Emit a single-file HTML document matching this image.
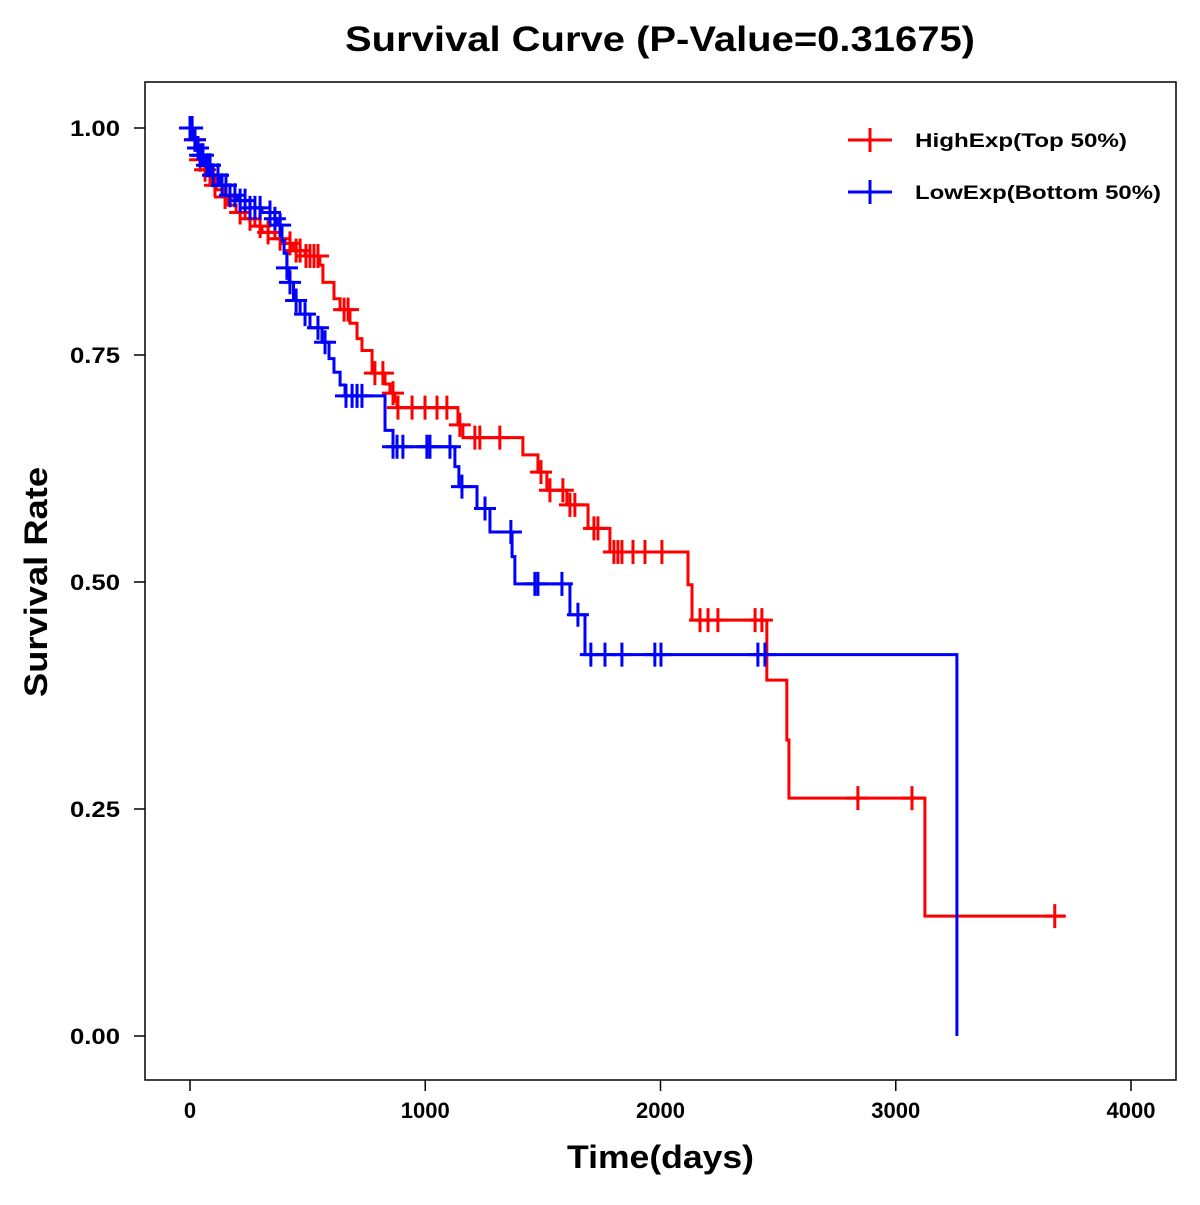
<!DOCTYPE html>
<html><head><meta charset="utf-8"><style>
body{margin:0;background:#fff;}
svg text{font-family:"Liberation Sans",Arial,sans-serif;font-weight:bold;}
</style></head><body>
<svg id="chart" width="1200" height="1200" xmlns="http://www.w3.org/2000/svg">
<rect x="0" y="0" width="1200" height="1200" fill="#fff"/>
<text x="345" y="51" font-size="35" textLength="630" lengthAdjust="spacingAndGlyphs">Survival Curve (P-Value=0.31675)</text>
<rect x="145" y="82" width="1031" height="998" fill="none" stroke="#000" stroke-width="1.5"/>
<g id="axes"></g>
<g id="series"></g>
<text x="567" y="1168" font-size="32" textLength="187" lengthAdjust="spacingAndGlyphs">Time(days)</text>
<text transform="translate(47,697) rotate(-90)" font-size="32" textLength="230" lengthAdjust="spacingAndGlyphs">Survival Rate</text>
<g>
<g>
<line x1="848" y1="140" x2="892" y2="140" stroke="#f00" stroke-width="3"/><line x1="870" y1="128" x2="870" y2="152" stroke="#f00" stroke-width="3"/>
<text x="915" y="147" font-size="19" textLength="212" lengthAdjust="spacingAndGlyphs">HighExp(Top 50%)</text></g>
<g>
<line x1="848" y1="192" x2="892" y2="192" stroke="#00f" stroke-width="3"/><line x1="870" y1="180" x2="870" y2="204" stroke="#00f" stroke-width="3"/>
<text x="915" y="199" font-size="19" textLength="246" lengthAdjust="spacingAndGlyphs">LowExp(Bottom 50%)</text></g>
</g>
</svg>
<script>
const xTicks=[0,1000,2000,3000,4000];
const yTicks=[0,0.25,0.5,0.75,1.0];
const yTickLabels=["0.00","0.25","0.50","0.75","1.00"];
const highTimes=[0,13,30,43,64,85,111,136,162,196,234,276,306,361,404,438,489,552,565,612,638,680,710,731,774,829,850,871,880,1139,1160,1415,1479,1517,1602,1692,1785,2117,2134,2452,2537,2546,3124];
const highSurv=[1,0.987,0.976,0.965,0.954,0.937,0.932,0.924,0.915,0.907,0.900,0.892,0.885,0.878,0.873,0.865,0.859,0.849,0.830,0.812,0.800,0.785,0.768,0.755,0.730,0.718,0.708,0.699,0.692,0.673,0.659,0.640,0.621,0.601,0.585,0.559,0.533,0.497,0.458,0.392,0.326,0.262,0.132];
const highEnd=3719;
const highCensor=[21,43,64,106,149,213,255,298,332,383,425,451,468,493,510,527,544,655,672,786,820,863,884,944,999,1050,1092,1147,1211,1232,1317,1492,1530,1585,1615,1636,1717,1734,1802,1819,1836,1883,1934,2006,2168,2202,2244,2402,2431,2839,3069,3676];
const lowTimes=[0,13,26,43,64,94,128,170,204,255,306,361,370,391,400,412,421,440,468,510,561,591,612,638,659,829,863,1126,1143,1220,1275,1369,1381,1615,1679,3260];
const lowSurv=[1,0.987,0.978,0.970,0.959,0.948,0.937,0.926,0.920,0.912,0.907,0.900,0.893,0.876,0.862,0.846,0.830,0.810,0.795,0.780,0.764,0.746,0.731,0.717,0.705,0.667,0.649,0.627,0.605,0.581,0.555,0.528,0.498,0.464,0.420,0];
const lowEnd=3260;
const lowCensor=[0,9,21,34,43,55,72,85,98,119,136,153,170,191,213,234,255,276,298,340,361,383,412,425,451,489,544,574,663,689,710,731,863,880,905,1007,1020,1105,1156,1254,1364,1466,1479,1581,1649,1704,1764,1836,1976,2002,2414,2444];

const NS='http://www.w3.org/2000/svg';
const X=t=>190+t*0.23525;
const Y=s=>1036-s*908;
function mk(tag,attrs,parent){const e=document.createElementNS(NS,tag);for(const k in attrs)e.setAttribute(k,attrs[k]);parent.appendChild(e);return e;}
const axes=document.getElementById('axes');
xTicks.forEach(v=>{
  const l=mk('line',{x1:X(v),x2:X(v),y1:1080,y2:1091,stroke:'#000','stroke-width':1.5},axes);
  
  
  const t=mk('text',{x:X(v),y:1118,'font-size':22,'text-anchor':'middle'},axes);t.textContent=v;
  
  
});
yTicks.forEach((v,i)=>{
  const l=mk('line',{x1:134,x2:145,y1:Y(v),y2:Y(v),stroke:'#000','stroke-width':1.5},axes);
  
  
  const t=mk('text',{x:70,y:Y(v)+8,'font-size':22,textLength:50,lengthAdjust:'spacingAndGlyphs'},axes);t.textContent=yTickLabels[i];
  
  
});
const series=document.getElementById('series');
function survAt(times,surv,t){let s=surv[0];for(let i=0;i<times.length;i++){if(times[i]<=t)s=surv[i];}return s;}
function draw(times,surv,end,cens,color,name){
  let d='M'+X(times[0])+','+Y(surv[0]);
  for(let i=1;i<times.length;i++){d+='H'+X(times[i])+'V'+Y(surv[i]);}
  d+='H'+X(end);
  const p=mk('path',{d:d,fill:'none',stroke:color,'stroke-width':3},series);
  
  
  cens.forEach(t=>{
    const s=survAt(times,surv,t);
    const g=mk('path',{d:'M'+(X(t)-11)+','+Y(s)+'h22M'+X(t)+','+(Y(s)-12)+'v24',stroke:color,'stroke-width':3,fill:'none'},series);
    
    
  });
}
draw(highTimes,highSurv,highEnd,highCensor,'#f00','high-exp');
draw(lowTimes,lowSurv,lowEnd,lowCensor,'#00f','low-exp');
</script>
</body></html>
